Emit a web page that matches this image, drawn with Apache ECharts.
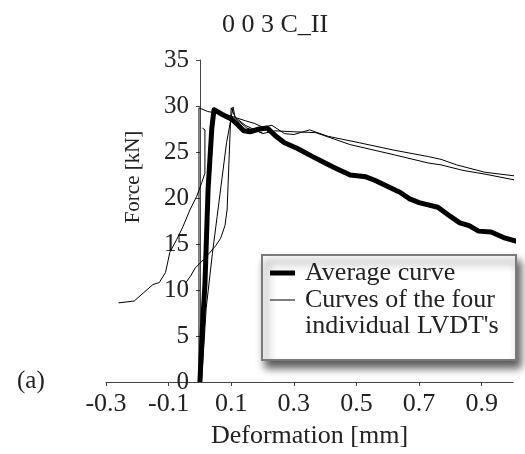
<!DOCTYPE html>
<html>
<head>
<meta charset="utf-8">
<script src="https://cdn.jsdelivr.net/npm/echarts@6/dist/echarts.min.js"></script>
<style>
  html, body { margin: 0; padding: 0; background: #fff; }
  #chart { width: 525px; height: 454px; }
</style>
</head>
<body>
<div id="chart"></div>
<script>
const FONT = '"Liberation Serif", "Times New Roman", serif';

const xTicks = [-0.3, -0.1, 0.1, 0.3, 0.5, 0.7, 0.9];

// [deformation mm, force kN]
const averageCurve = [
    [0.0, 0], [0.008, 6], [0.016, 10.6], [0.026, 20.9], [0.038, 27.6], [0.045, 29.6],
    [0.07, 29.1], [0.1, 28.6], [0.12, 28.0], [0.14, 27.3], [0.16, 27.2], [0.19, 27.5],
    [0.215, 27.6], [0.24, 26.8], [0.27, 26.0], [0.31, 25.4], [0.36, 24.5], [0.40, 23.8],
    [0.43, 23.3], [0.48, 22.5], [0.53, 22.3], [0.56, 21.9], [0.59, 21.4], [0.64, 20.6],
    [0.67, 19.9], [0.70, 19.5], [0.76, 19.0], [0.80, 18.0], [0.83, 17.3], [0.86, 17.0],
    [0.89, 16.4], [0.93, 16.3], [0.97, 15.7], [1.02, 15.2],
];

const lvdt1 = [
    [-0.26, 8.6], [-0.21, 8.8], [-0.18, 9.7], [-0.15, 10.6], [-0.13, 10.8], [-0.11, 11.9],
    [-0.096, 14.1], [-0.074, 15.5], [-0.054, 16.9], [-0.032, 18.7], [-0.01, 20.2],
    [0.006, 21.7], [0.016, 22.7], [0.016, 27.4], [0.008, 27.6],
];

const lvdt2 = [
    [-0.045, 10.8], [-0.03, 11.5], [-0.015, 12.4], [0.006, 13.1], [0.03, 14.0], [0.05, 14.8],
    [0.066, 15.6], [0.08, 17.0], [0.087, 18.8], [0.09, 21.5], [0.094, 25.0], [0.098, 28.5],
    [0.1, 29.8], [0.115, 28.6], [0.15, 27.6], [0.2, 27.1],
];

const lvdt3 = [
    [-0.003, 0], [-0.003, 29.8], [0.025, 29.4], [0.09, 29.0], [0.145, 28.4], [0.175, 28.1],
    [0.2, 27.7], [0.23, 27.9], [0.27, 27.0], [0.3, 26.9], [0.35, 27.4], [0.41, 26.7],
    [0.51, 26.0], [0.62, 25.2], [0.73, 24.5], [0.77, 24.2], [0.82, 23.6], [0.91, 22.8],
    [1.03, 22.3],
];

const lvdt4 = [
    [0.005, 0], [0.02, 8], [0.04, 14], [0.055, 18], [0.07, 22], [0.085, 26], [0.106, 29.9],
    [0.112, 28.8], [0.145, 27.9], [0.2, 27.0], [0.24, 27.3], [0.3, 27.2], [0.37, 27.1],
    [0.48, 25.8], [0.62, 24.7], [0.73, 23.8], [0.77, 23.6], [0.84, 23.0], [0.91, 22.6],
    [1.03, 21.8],
];

const thinSeries = [lvdt1, lvdt2, lvdt3, lvdt4].map((data) => ({
    name: "Curves of the four individual LVDT's",
    type: 'line',
    data,
    symbol: 'none',
    clip: false,
    lineStyle: { color: '#000', width: 1 },
    z: 2,
}));

const chart = echarts.init(document.getElementById('chart'));

chart.setOption({
    animation: false,
    backgroundColor: '#fff',
    textStyle: { fontFamily: FONT },
    title: {
        text: '0 0 3 C_II',
        left: 270,
        top: 7,
        textAlign: 'center',
        textStyle: { fontFamily: FONT, fontSize: 26, fontWeight: 'normal', color: '#222' },
    },
    grid: { left: 106, right: 12, top: 60, bottom: 71 },
    xAxis: {
        type: 'value',
        min: -0.3,
        max: 1.0,
        name: 'Deformation [mm]',
        nameLocation: 'middle',
        nameGap: 41,
        nameTextStyle: { fontFamily: FONT, fontSize: 26, color: '#222' },
        splitLine: { show: false },
        axisLine: { lineStyle: { color: '#444', width: 1 } },
        axisTick: { length: 4, customValues: xTicks, lineStyle: { color: '#444' } },
        axisLabel: {
            customValues: xTicks,
            margin: 9,
            fontFamily: FONT,
            fontSize: 26,
            color: '#222',
            formatter: (v) => v.toFixed(1),
        },
    },
    yAxis: {
        type: 'value',
        min: 0,
        max: 35,
        interval: 5,
        // put the axis at deformation = 0
        offset: -94,
        splitLine: { show: false },
        axisLine: { show: true, onZero: false, lineStyle: { color: '#444', width: 1 } },
        axisTick: { show: true, length: 4, lineStyle: { color: '#444' } },
        axisLabel: { margin: 11, fontFamily: FONT, fontSize: 25, color: '#222' },
    },
    graphic: [
        {
            type: 'text',
            x: 133,
            y: 177,
            rotation: Math.PI / 2,
            style: {
                text: 'Force [kN]',
                font: '21px ' + FONT,
                fill: '#222',
                align: 'center',
                verticalAlign: 'middle',
            },
        },
        {
            type: 'text',
            left: 17,
            top: 369,
            style: { text: '(a)', font: '25px ' + FONT, fill: '#222' },
        },
        {
            type: 'group',
            z: 100,
            children: [
                {
                    type: 'rect',
                    shape: { x: 262, y: 255, width: 254, height: 105 },
                    style: {
                        fill: '#fff',
                        stroke: '#7a7a7a',
                        lineWidth: 2,
                        shadowBlur: 8,
                        shadowOffsetX: 4,
                        shadowOffsetY: 7,
                        shadowColor: 'rgba(0,0,0,0.65)',
                    },
                },
                {
                    type: 'line',
                    shape: { x1: 270, y1: 273, x2: 295, y2: 273 },
                    style: { stroke: '#000', lineWidth: 5 },
                },
                {
                    type: 'line',
                    shape: { x1: 270, y1: 300, x2: 295, y2: 300 },
                    style: { stroke: '#000', lineWidth: 1 },
                },
                {
                    type: 'text',
                    x: 305,
                    y: 273,
                    style: { text: 'Average curve', font: '26px ' + FONT, fill: '#222', verticalAlign: 'middle' },
                },
                {
                    type: 'text',
                    x: 305,
                    y: 300,
                    style: { text: 'Curves of the four', font: '26px ' + FONT, fill: '#222', verticalAlign: 'middle' },
                },
                {
                    type: 'text',
                    x: 305,
                    y: 326,
                    style: { text: "individual LVDT's", font: '26px ' + FONT, fill: '#222', verticalAlign: 'middle' },
                },
            ],
        },
    ],
    series: [
        ...thinSeries,
        {
            name: 'Average curve',
            type: 'line',
            data: averageCurve,
            symbol: 'none',
            clip: false,
            lineStyle: { color: '#000', width: 5, join: 'round' },
            z: 3,
        },
    ],
});
</script>
</body>
</html>
